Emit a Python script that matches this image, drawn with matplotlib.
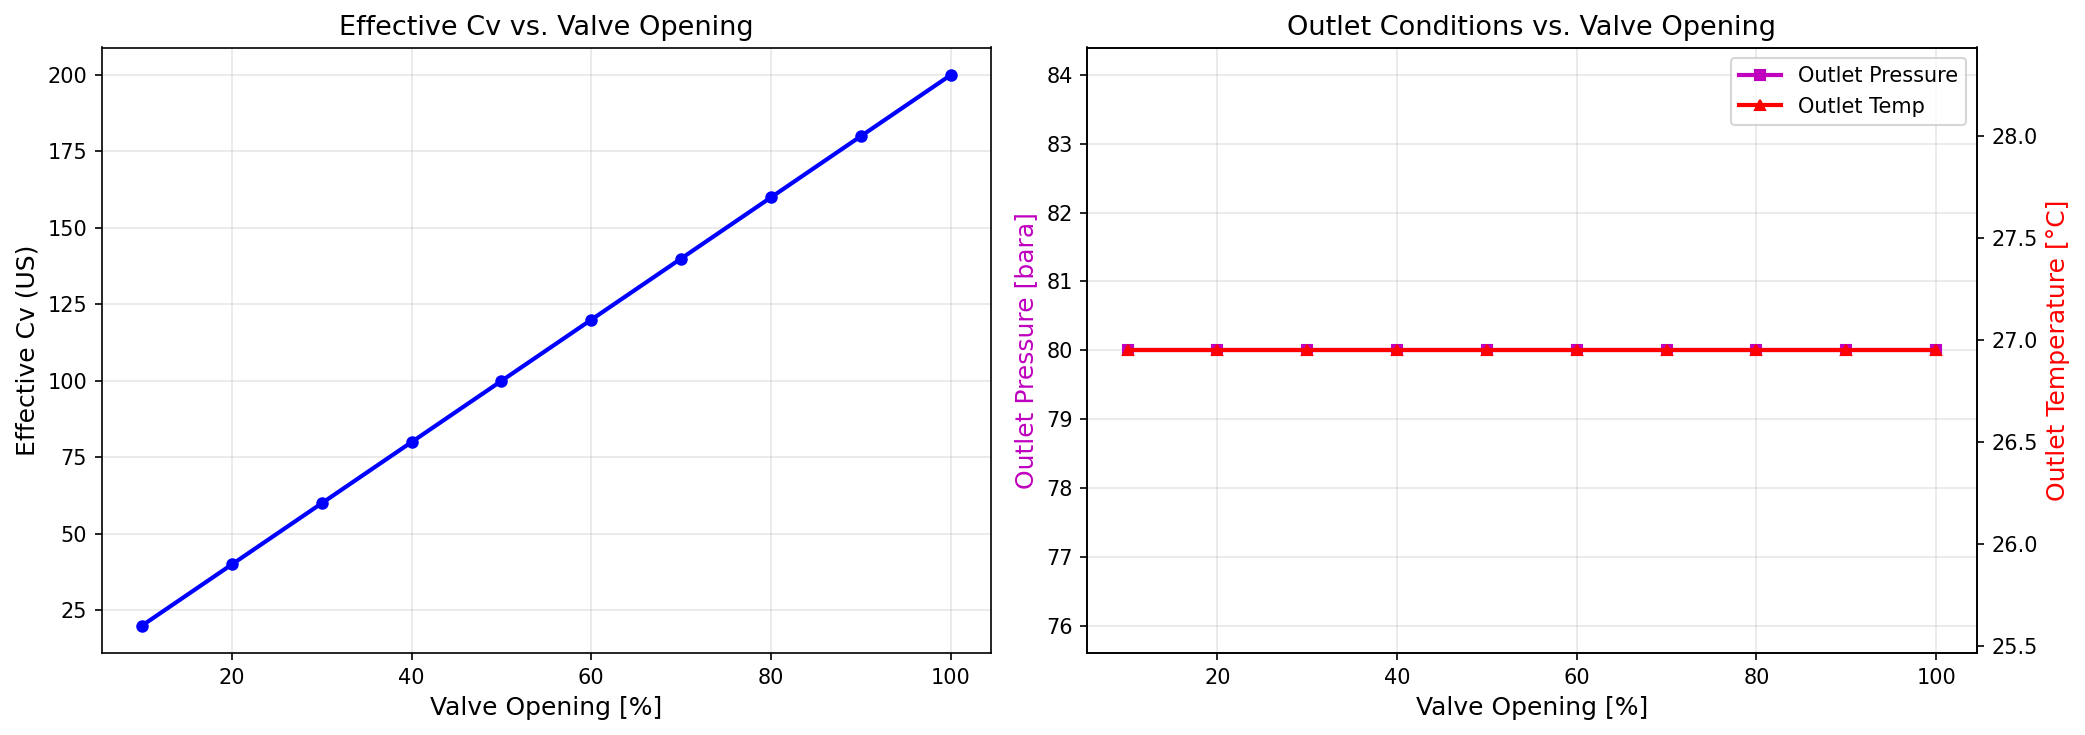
import matplotlib
matplotlib.use("Agg")
import matplotlib.pyplot as plt
import numpy as np

opening = [10, 20, 30, 40, 50, 60, 70, 80, 90, 100]
cv_eff = [20, 40, 60, 80, 100, 120, 140, 160, 180, 200]
p_out = [80.0] * 10
t_out = [26.95] * 10

fig, (ax1, ax2) = plt.subplots(1, 2, figsize=(14, 5), dpi=150)

ax1.plot(opening, cv_eff, "b-o", linewidth=2, markersize=5)
ax1.set_xlabel("Valve Opening [%]", fontsize=12)
ax1.set_ylabel("Effective Cv (US)", fontsize=12)
ax1.set_title("Effective Cv vs. Valve Opening", fontsize=13)
ax1.grid(True, alpha=0.3)

l1 = ax2.plot(opening, p_out, "m-s", linewidth=2, markersize=5, label="Outlet Pressure")
ax2.set_xlabel("Valve Opening [%]", fontsize=12)
ax2.set_ylabel("Outlet Pressure [bara]", color="m", fontsize=12)
ax2.set_title("Outlet Conditions vs. Valve Opening", fontsize=13)
ax2.grid(True, alpha=0.3)
ax3 = ax2.twinx()
l2 = ax3.plot(opening, t_out, "r-^", linewidth=2, markersize=5, label="Outlet Temp")
ax3.set_ylabel("Outlet Temperature [°C]", color="r", fontsize=12)
lines = l1 + l2
ax2.legend(lines, [l.get_label() for l in lines], loc="upper right")

plt.tight_layout()
plt.savefig("out.png", dpi=150, bbox_inches="tight")
